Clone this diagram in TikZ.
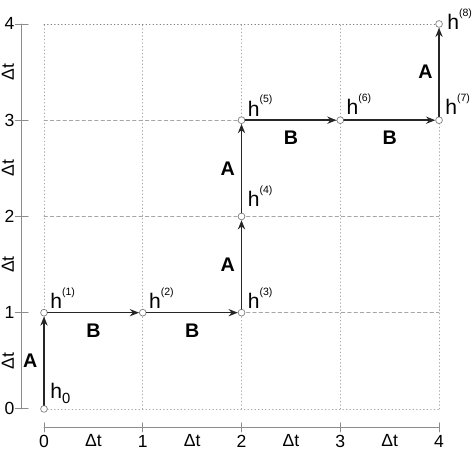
\documentclass[tikz,border=0pt]{standalone}
\usepackage{fontspec}
\setmainfont{Liberation Sans}
\usetikzlibrary{arrows.meta}

% labels of the iterates
\newcommand{\hsup}[1]{h\raisebox{9.5pt}{\fontsize{7.5}{8}\selectfont(#1)}}
\newcommand{\hsub}[1]{h\raisebox{-3.5pt}{\fontsize{10.5}{11}\selectfont#1}}

\begin{document}
\begin{tikzpicture}[%
        x = 2.469cm,
        y = 2.406cm,
        line cap = round,
        > = {Stealth[length = 2.3mm, width = 1.8mm]},
        smalldot/.style = {
            circle,
            draw = gray,
            fill = white,
            line width = 0.5pt,
            inner sep = 0pt,
            minimum size = 1.7mm
        },
        stepline/.style = {
            ->,
            draw = black!85,
            line width = 1.1pt
        },
        steplabel/.style = {
            font = \fontsize{14}{16}\selectfont\bfseries,
            inner sep = 1pt
        },
        hlabel/.style = {
            anchor = base west,
            inner sep = 0pt,
            xshift = 1.5mm,
            yshift = 1mm,
            font = \fontsize{15}{17}\selectfont
        },
        axisnum/.style = {
            font = \fontsize{12.5}{14}\selectfont,
            inner sep = 0pt
        },
        gridline/.style = {
            draw = gray!70,
            line width = 0.5pt
        },
        axisline/.style = {
            draw = gray!90,
            line width = 0.6pt
        }
    ]

        \useasboundingbox (-0.4456, -0.426) rectangle (4.354, 4.249);

        % Grid of time steps.
        \foreach \i in {0, ..., 4}
            \draw[gridline, dotted] (\i, 0) -- (\i, 4);
        \draw[gridline, dotted] (0, 0) -- (4, 0);
        \draw[gridline, dotted, draw = gray] (0, 4) -- (4, 4);
        \foreach \j in {1, 2, 3}
            \draw[gridline, dash pattern = on 2.5pt off 2pt] (0, \j) -- (4, \j);

        % Left axis with its ticks.
        \draw[axisline] (-0.233, 0) -- (-0.233, 4);
        \foreach \j in {0, ..., 4} {
            \draw[axisline] (-0.29, \j) -- (-0.16, \j);
            \node[axisnum] (ly\j) at (-0.35, \j) {\j};
        }
        \foreach \j in {0, ..., 3}
            \node[axisnum, rotate = 90] (dy\j) at (-0.365, \j + 0.5) {Δt};

        % Bottom axis with its ticks.
        \draw[axisline] (0, -0.197) -- (4, -0.197);
        \foreach \i in {0, ..., 4} {
            \draw[axisline] (\i, -0.145) -- (\i, -0.239);
            \node[axisnum] (lx\i) at (\i, -0.335) {\i};
        }
        \foreach \i in {0, ..., 3}
            \node[axisnum] (dx\i) at (\i + 0.5, -0.325) {Δt};

        % Points of the splitting scheme.
        \node[smalldot] (h0) at (0, 0) {};
        \node[smalldot] (h1) at (0, 1) {};
        \node[smalldot] (h2) at (1, 1) {};
        \node[smalldot] (h3) at (2, 1) {};
        \node[smalldot] (h4) at (2, 2) {};
        \node[smalldot] (h5) at (2, 3) {};
        \node[smalldot] (h6) at (3, 3) {};
        \node[smalldot] (h7) at (4, 3) {};
        \node[smalldot] (h8) at (4, 4) {};

        % Steps A (upwards) and B (to the right).
        \draw[stepline] (h0) -- (h1) node[midway, left = 1.1mm, steplabel] {A};
        \draw[stepline] (h1) -- (h2) node[midway, below = 2.2mm, steplabel] {B};
        \draw[stepline] (h2) -- (h3) node[midway, below = 2.2mm, steplabel] {B};
        \draw[stepline] (h3) -- (h4) node[midway, left = 1.1mm, steplabel] {A};
        \draw[stepline] (h4) -- (h5) node[midway, left = 1.1mm, steplabel] {A};
        \draw[stepline] (h5) -- (h6) node[midway, below = 2.2mm, steplabel] {B};
        \draw[stepline] (h6) -- (h7) node[midway, below = 2.2mm, steplabel] {B};
        \draw[stepline] (h7) -- (h8) node[midway, left = 1.1mm, steplabel] {A};

        % Names of the points.
        \node[hlabel, yshift = 1.5mm] (t0) at (h0.center) {\hsub{0}};
        \node[hlabel] (t1) at (h1.center) {\hsup{1}};
        \node[hlabel] (t2) at (h2.center) {\hsup{2}};
        \node[hlabel] (t3) at (h3.center) {\hsup{3}};
        \node[hlabel, yshift = 1.5mm] (t4) at (h4.center) {\hsup{4}};
        \node[hlabel] (t5) at (h5.center) {\hsup{5}};
        \node[hlabel, yshift = 0.3mm] (t6) at (h6.center) {\hsup{6}};
        \node[hlabel, yshift = 0.3mm] (t7) at (h7.center) {\hsup{7}};
        \node[hlabel, xshift = 0.5mm, yshift = -2.4mm] (t8) at (h8.center) {\hsup{8}};
    \end{tikzpicture}
\end{document}
